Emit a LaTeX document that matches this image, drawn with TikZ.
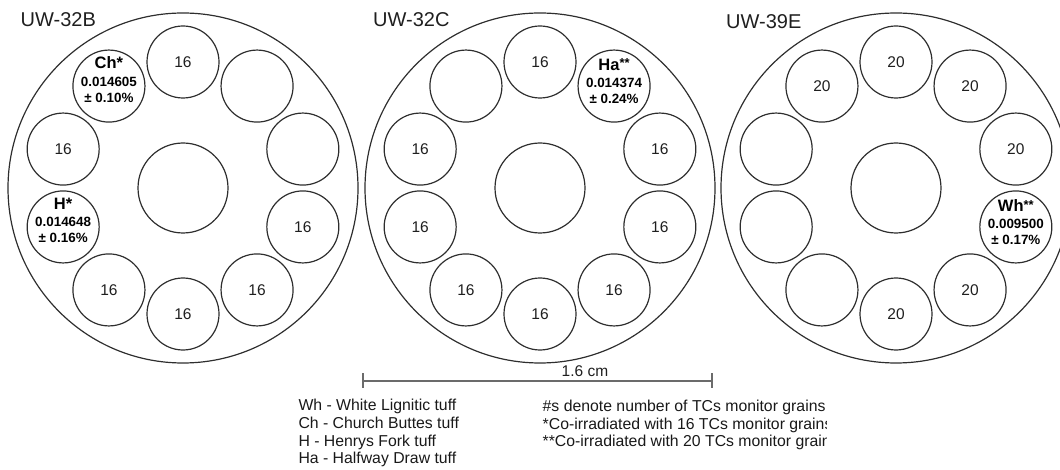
\documentclass[tikz,border=0pt]{standalone}
\usepackage{fontspec}
\setmainfont{Liberation Sans}
\usetikzlibrary{calc}
\newcommand{\dstar}{\raisebox{2.4pt}{\fontsize{13}{13}\selectfont**}}
\begin{document}
\begin{tikzpicture}[x=1pt,y=-1pt,
  ink/.style={draw=black!82, line width=1.2pt},
  plate/.style={ink, circle, inner sep=0pt, outer sep=0pt, minimum size=350pt},
  core/.style={ink, circle, inner sep=0pt, outer sep=0pt, minimum size=90pt},
  well/.style={ink, circle, inner sep=0pt, outer sep=0pt, minimum size=72pt,
    text=black!88, font=\fontsize{15.5}{18}\selectfont},
  tag/.style={anchor=base west, inner sep=0pt, text=black!88,
    font=\fontsize{20}{24}\selectfont},
  note/.style={anchor=base west, inner sep=0pt, text=black!90,
    font=\fontsize{15.8}{18}\selectfont},
  sname/.style={anchor=base, inner sep=0pt, font=\bfseries\fontsize{16.5}{18}\selectfont},
  sval/.style={anchor=base, inner sep=0pt, font=\bfseries\fontsize{13.4}{16}\selectfont},
  scalebar/.style={draw=black!58, line width=1.6pt}]
\useasboundingbox (0,0) rectangle (1060,470);
\clip (0,0) rectangle (1060,470);

% the three irradiation discs
\node[plate] (p1) at (183,188) {};
\node[plate] (p2) at (540,188) {};
\node[plate] (p3) at (896,188) {};
\foreach \p in {1,2,3} \node[core] (c\p) at (p\p.center) {};

\node[tag] (t1) at (20.5,26.7) {UW-32B};
\node[tag] (t2) at (373,26.5) {UW-32C};
\node[tag] (t3) at (726,29) {UW-39E};

% ten sample wells per disc, clockwise from the top
\foreach \k/\t in {0/16,1/{},2/{},3/16,4/16,5/16,6/16,7/{},8/16,9/{}}
  \node[well] (a\k) at ($(p1.center)+({36*\k-90}:126)$) {\t};
\foreach \k/\t in {0/16,1/{},2/16,3/16,4/16,5/16,6/16,7/16,8/16,9/{}}
  \node[well] (b\k) at ($(p2.center)+({36*\k-90}:126)$) {\t};
\foreach \k/\t in {0/20,1/20,2/20,3/{},4/20,5/20,6/{},7/{},8/{},9/20}
  \node[well] (d\k) at ($(p3.center)+({36*\k-90}:126)$) {\t};

% standards with their J values
\path (a9.center) ++(0,-17.5) node[sname] (a9n) {Ch*}
      ++(0,17.5) node[sval] (a9v) {0.014605}
      ++(0,16) node[sval] (a9e) {± 0.10\%};
\path (a7.center) ++(0,-17.5) node[sname] (a7n) {H*}
      ++(0,17.5) node[sval] (a7v) {0.014648}
      ++(0,16) node[sval] (a7e) {± 0.16\%};
\path (b1.center) ++(0,-16) node[sname] (b1n) {Ha\dstar}
      ++(0,17.5) node[sval] (b1v) {0.014374}
      ++(0,16) node[sval] (b1e) {± 0.24\%};
\path (d3.center) ++(0,-15) node[sname] (d3n) {Wh\dstar}
      ++(0,17) node[sval] (d3v) {0.009500}
      ++(0,16) node[sval] (d3e) {± 0.17\%};

% scale bar
\coordinate (sbL) at (363,381);
\coordinate (sbR) at (712,381);
\draw[scalebar] (sbL) -- (sbR);
\draw[scalebar] (sbL) ++(0,-8) -- ++(0,15);
\draw[scalebar] (sbR) ++(0,-8) -- ++(0,15);
\node[anchor=base, inner sep=0pt, text=black!88, font=\fontsize{15.5}{18}\selectfont]
  (sbT) at (585,376.5) {1.6 cm};

% key to the standards
\node[note] (k1) at (298.3,410.7) {Wh - White Lignitic tuff};
\node[note] (k2) at (298.3,428.3) {Ch - Church Buttes tuff};
\node[note] (k3) at (298.3,446) {H - Henrys Fork tuff};
\node[note] (k4) at (298.3,463.5) {Ha - Halfway Draw tuff};

\begin{scope}
  \clip (530,390) rectangle (826.5,470);
  \node[note] (n1) at (542.5,411.5) {\#s denote number of TCs monitor grains};
  \node[note] (n2) at (542.5,429) {*Co-irradiated with 16 TCs monitor grains};
  \node[note] (n3) at (542.5,446.5) {**Co-irradiated with 20 TCs monitor grains};
\end{scope}
\end{tikzpicture}
\end{document}
